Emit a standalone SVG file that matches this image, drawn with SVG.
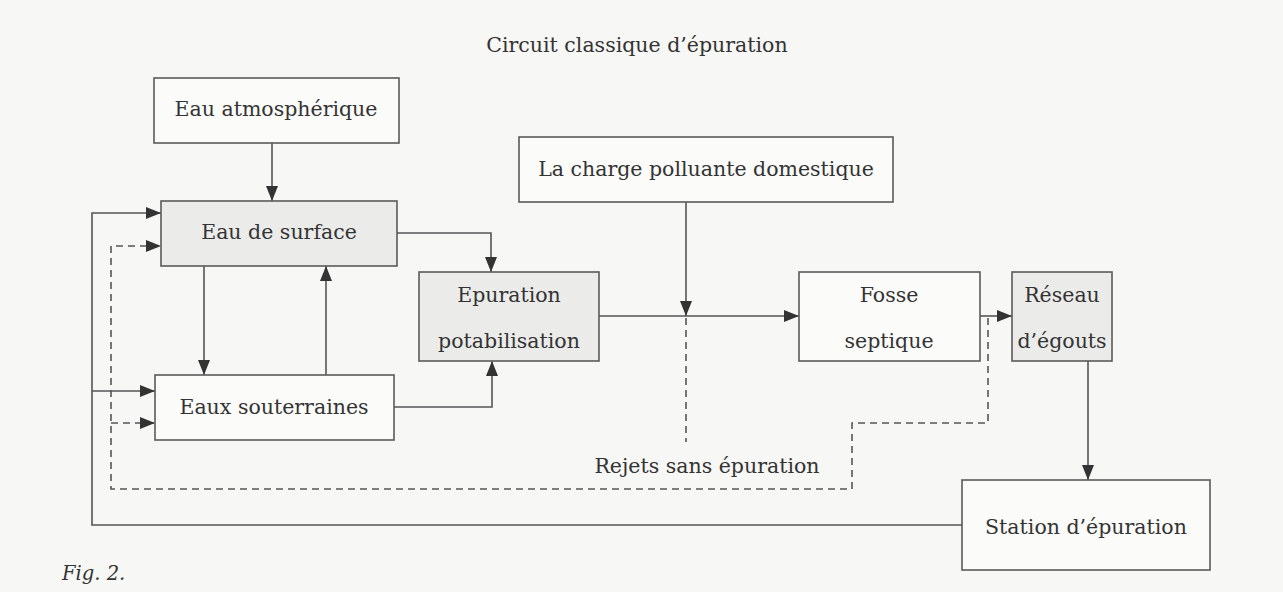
<svg xmlns="http://www.w3.org/2000/svg" width="1283" height="592" viewBox="0 0 1283 592">
<style>
.box{stroke:#5a5a5a;stroke-width:1.6}
.w{fill:#fbfbfa}
.g{fill:#ebebea}
.t{font-family:"DejaVu Serif","Liberation Serif",serif;font-size:20.5px;fill:#333;text-anchor:middle}
.c{fill:none;stroke:#555;stroke-width:1.6}
.d{stroke-dasharray:7 5}
</style>
<defs>
<marker id="ah" markerUnits="userSpaceOnUse" markerWidth="16" markerHeight="12" refX="15" refY="6" orient="auto">
<path d="M0,0 L15,6 L0,12 z" fill="#333"/>
</marker>
</defs>
<rect width="1283" height="592" fill="#f7f7f5"/>
<text class="t" x="637" y="52">Circuit classique d’épuration</text>
<g id="connectors">
<path class="c" d="M272 143 V201" marker-end="url(#ah)"/>
<path class="c" d="M397 233 H491 V272" marker-end="url(#ah)"/>
<path class="c" d="M204 266 V375" marker-end="url(#ah)"/>
<path class="c" d="M326 375 V266" marker-end="url(#ah)"/>
<path class="c" d="M394 407 H492 V361" marker-end="url(#ah)"/>
<path class="c" d="M686 202 V316" marker-end="url(#ah)"/>
<path class="c" d="M599 316 H799" marker-end="url(#ah)"/>
<path class="c" d="M980 316 H1012" marker-end="url(#ah)"/>
<path class="c" d="M1088 361 V480" marker-end="url(#ah)"/>
<path class="c" d="M962 525 H92 V213 H161" marker-end="url(#ah)"/>
<path class="c" d="M92 391 H155" marker-end="url(#ah)"/>
<path class="c d" d="M686 318 V442"/>
<path class="c d" d="M988 318 V423 H852 V489 H111 V246 H161" marker-end="url(#ah)"/>
<path class="c d" d="M111 423 H155" marker-end="url(#ah)"/>
</g>
<g id="n-atm"><rect class="box w" x="154" y="78" width="245" height="65"/><text class="t" x="276" y="116">Eau atmosphérique</text></g>
<g id="n-surface"><rect class="box g" x="161" y="201" width="236" height="65"/><text class="t" x="279" y="239">Eau de surface</text></g>
<g id="n-souterraines"><rect class="box w" x="155" y="375" width="239" height="65"/><text class="t" x="274" y="414">Eaux souterraines</text></g>
<g id="n-epuration"><rect class="box g" x="419" y="272" width="180" height="89"/><text class="t" x="509" y="302">Epuration</text><text class="t" x="509" y="348">potabilisation</text></g>
<g id="n-charge"><rect class="box w" x="519" y="137" width="374" height="65"/><text class="t" x="706" y="176">La charge polluante domestique</text></g>
<g id="n-fosse"><rect class="box w" x="799" y="272" width="181" height="89"/><text class="t" x="889" y="302">Fosse</text><text class="t" x="889" y="348">septique</text></g>
<g id="n-reseau"><rect class="box g" x="1012" y="272" width="100" height="89"/><text class="t" x="1062" y="302">Réseau</text><text class="t" x="1062" y="348">d’égouts</text></g>
<g id="n-station"><rect class="box w" x="962" y="480" width="248" height="90"/><text class="t" x="1086" y="534">Station d’épuration</text></g>
<g id="n-rejets"><text class="t" x="707" y="473">Rejets sans épuration</text></g>
<text x="62" y="580" style="font-family:'DejaVu Serif','Liberation Serif',serif;font-style:italic;font-size:19.5px;fill:#333">Fig. 2.</text>
</svg>
